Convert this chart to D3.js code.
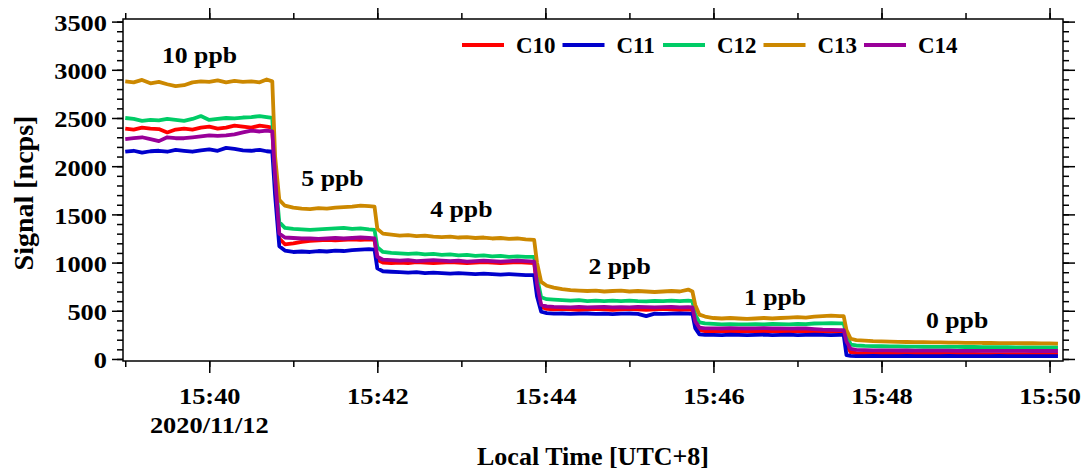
<!DOCTYPE html>
<html>
<head>
<meta charset="utf-8">
<script src="https://cdn.jsdelivr.net/npm/d3@7"></script>
<style>
  body { margin: 0; background: #fff; }
  svg text { font-family: "Liberation Serif", "Times New Roman", serif; font-weight: bold; fill: #000; }
</style>
</head>
<body>
<svg width="1085" height="472"></svg>
<script>
// Sample times, seconds after 15:39:00 on 2020/11/12
var secs = [0, 6, 12, 18, 24, 30, 36, 42, 48, 54, 60, 66, 72, 78, 84, 90, 96, 101, 105,
  107, 110, 114,
  120, 126, 132, 138, 144, 150, 156, 162, 168, 174, 178,
  180, 184,
  190, 196, 202, 208, 214, 220, 226, 232, 238, 244, 250, 256, 262, 268, 274, 280, 286, 292,
  294, 297, 301,
  306, 312, 318, 324, 330, 336, 342, 348, 354, 360, 366, 372, 378, 384, 390, 396, 402, 405,
  407, 410, 414,
  420, 426, 432, 438, 444, 450, 456, 462, 468, 474, 480, 486, 492, 498, 504, 510, 513,
  515, 518, 522,
  528, 534, 540, 546, 552, 558, 564, 570, 576, 582, 588, 594, 600, 606, 612, 618, 624, 630, 636, 642, 648, 654, 660, 666];

var c10 = [2390, 2380, 2400, 2390, 2385, 2350, 2380, 2390, 2380, 2400, 2410, 2390, 2400, 2420, 2410, 2400, 2420, 2410, 2400,
  1800, 1250, 1190,
  1200, 1215, 1225, 1230, 1235, 1230, 1235, 1240, 1235, 1240, 1235,
  1030, 1000,
  995, 1000, 995, 1005, 1000, 995, 1000, 1005, 1000, 995, 1000, 1005, 1000, 995, 1000, 1005, 1000, 995,
  750, 540, 520,
  515, 520, 515, 510, 515, 520, 515, 510, 515, 520, 515, 510, 515, 520, 515, 510, 515, 510,
  360, 300, 290,
  290, 292, 288, 290, 292, 290, 288, 292, 290, 288, 290, 292, 288, 290, 285, 283, 283,
  150, 70, 60,
  58, 57, 56, 55, 55, 55, 54, 54, 53, 53, 53, 52, 52, 52, 51, 51, 51, 50, 50, 50, 50, 50, 50, 50];

var c11 = [2150, 2160, 2140, 2155, 2160, 2150, 2170, 2160, 2150, 2165, 2175, 2160, 2190, 2180, 2165, 2160, 2170, 2155, 2150,
  1700, 1170, 1125,
  1110, 1115, 1110, 1120, 1115, 1125, 1120, 1130, 1135, 1140, 1135,
  940, 910,
  905, 900, 895, 900, 890, 895, 890, 885, 890, 885, 880, 885, 880, 875, 880, 875, 870, 870,
  650, 490, 475,
  470, 472, 468, 470, 472, 468, 470, 465, 470, 472, 468, 445, 470, 468, 470, 472, 470, 468,
  320, 255, 250,
  250, 248, 252, 250, 248, 250, 252, 248, 250, 252, 248, 250, 252, 250, 248, 250, 250,
  40, 32, 30,
  30, 31, 30, 29, 30, 31, 30, 30, 29, 30, 31, 30, 30, 29, 30, 30, 31, 30, 30, 29, 30, 30, 30, 30];

var c12 = [2500, 2490, 2470, 2480, 2475, 2490, 2480, 2470, 2490, 2520, 2480, 2490, 2500, 2495, 2505, 2510, 2520, 2510, 2500,
  1900, 1420, 1360,
  1350, 1345, 1340, 1345, 1350, 1355, 1360, 1350, 1355, 1345, 1340,
  1160, 1110,
  1100, 1095, 1090, 1095, 1085, 1090, 1080, 1085, 1075, 1080, 1070, 1075, 1065, 1070, 1060, 1065, 1060, 1060,
  850, 640, 620,
  615, 610, 605, 610, 600, 605, 600, 605, 600, 605, 600, 598, 603, 600, 605, 600, 605, 600,
  460, 380, 370,
  365, 360, 362, 358, 360, 362, 360, 365, 362, 360, 365, 362, 368, 370, 372, 370, 370,
  250, 150, 140,
  135, 133, 132, 130, 130, 128, 128, 127, 126, 126, 125, 125, 124, 124, 123, 123, 122, 122, 121, 121, 120, 120, 120, 119];

var c13 = [2880, 2870, 2895, 2860, 2875, 2850, 2830, 2840, 2870, 2880, 2875, 2890, 2870, 2885, 2875, 2880, 2870, 2900, 2880,
  2100, 1650, 1590,
  1570, 1560, 1555, 1565, 1560, 1570, 1575, 1580, 1590, 1585, 1580,
  1350, 1300,
  1290, 1280, 1285, 1275, 1280, 1270, 1265, 1270, 1260, 1265, 1255, 1260, 1250, 1255, 1245, 1250, 1240, 1235,
  1000, 800, 760,
  740, 725, 715, 710, 705, 710, 700, 705, 710, 700, 705, 700, 695, 700, 705, 700, 720, 700,
  560, 460, 440,
  425, 420, 425, 420, 415, 420, 425, 420, 425, 430, 435, 430, 440, 445, 450, 445, 445,
  300, 210, 195,
  190, 185, 182, 180, 178, 176, 175, 174, 172, 172, 170, 170, 168, 168, 166, 166, 165, 165, 164, 163, 163, 162, 162, 160];

var c14 = [2280, 2290, 2300, 2280, 2260, 2300, 2290, 2290, 2300, 2310, 2320, 2315, 2320, 2330, 2350, 2370, 2360, 2370, 2360,
  1900, 1300, 1260,
  1255, 1250, 1250, 1245, 1250, 1255, 1250, 1255, 1260, 1255, 1250,
  1060, 1030,
  1025, 1020, 1025, 1015, 1020, 1025, 1020, 1015, 1020, 1010, 1015, 1020, 1015, 1010, 1015, 1020, 1015, 1010,
  780, 560, 545,
  540, 538, 535, 540, 535, 538, 540, 535, 538, 535, 540, 537, 535, 538, 540, 535, 538, 535,
  390, 325, 318,
  318, 316, 320, 318, 316, 318, 320, 316, 318, 315, 318, 316, 310, 305, 302, 300, 300,
  180, 105, 95,
  92, 90, 90, 89, 88, 88, 87, 87, 86, 86, 86, 85, 85, 85, 85, 84, 84, 84, 84, 83, 83, 83, 83, 83];

var seriesNames = ["C10", "C11", "C12", "C13", "C14"];
var seriesColors = ["#ff0000", "#0000cc", "#00cc66", "#cc8800", "#990099"];
var seriesValues = [c10, c11, c12, c13, c14];

var yTicks = [0, 500, 1000, 1500, 2000, 2500, 3000, 3500];
var xTickMinutes = [40, 42, 44, 46, 48, 50];
var dateLabel = "2020/11/12";

// concentration labels: text, seconds, signal value at baseline
var levelNames = ["10 ppb", "5 ppb", "4 ppb", "2 ppb", "1 ppb", "0 ppb"];
var levelSecs = [53, 148, 240, 353, 464, 594];
var levelSignal = [3070, 1795, 1473, 882, 560, 322];

var svg = d3.select("svg");
var plotL = 123, plotR = 1063, plotT = 19, plotB = 361;
var sx = 1.1;

function toDate(s) { return new Date(2020, 10, 12, 15, 39, 0, Math.round(s * 1000)); }

var x = d3.scaleTime()
    .domain([toDate(-1.6), toDate(669.6)])
    .range([plotL, plotR]);
var y = d3.scaleLinear()
    .domain([-21, 3527])
    .range([plotB, plotT]);

// lines
var line = d3.line()
    .x((d, i) => x(toDate(secs[i])))
    .y(d => y(d));

svg.append("g")
    .selectAll("path")
    .data(seriesValues)
    .enter().append("path")
    .attr("d", d => line(d))
    .attr("fill", "none")
    .attr("stroke", (d, i) => seriesColors[i])
    .attr("stroke-width", 3.8)
    .attr("stroke-linejoin", "round");

// frame
svg.append("rect")
    .attr("x", plotL).attr("y", plotT)
    .attr("width", plotR - plotL).attr("height", plotB - plotT)
    .attr("fill", "none").attr("stroke", "#000").attr("stroke-width", 1.5);

var minorY = d3.range(0, 3501, 100);
var majorX = xTickMinutes.map(m => new Date(2020, 10, 12, 15, m, 0));
var minorX = d3.range(39, 51).map(m => new Date(2020, 10, 12, 15, m, 0));

function styleAxis(g) {
    g.select(".domain").remove();
    g.selectAll("line").attr("stroke", "#000").attr("stroke-width", 1.5);
}

// left
svg.append("g").attr("transform", `translate(${plotL},0)`)
    .call(d3.axisLeft(y).tickValues(minorY).tickSize(6).tickFormat(""))
    .call(styleAxis);
var gl = svg.append("g").attr("transform", `translate(${plotL},0)`)
    .call(d3.axisLeft(y).tickValues(yTicks).tickSize(11).tickPadding(5).tickFormat(d3.format("d")))
    .call(styleAxis);
gl.selectAll("text")
    .attr("font-size", 24)
    .attr("x", -16 / sx)
    .attr("dy", "0.37em")
    .attr("transform", `scale(${sx},1)`);

// right
svg.append("g").attr("transform", `translate(${plotR},0)`)
    .call(d3.axisRight(y).tickValues(minorY).tickSize(6).tickFormat(""))
    .call(styleAxis);
svg.append("g").attr("transform", `translate(${plotR},0)`)
    .call(d3.axisRight(y).tickValues(yTicks).tickSize(12).tickFormat(""))
    .call(styleAxis);

// top
svg.append("g").attr("transform", `translate(0,${plotT})`)
    .call(d3.axisTop(x).tickValues(minorX).tickSize(6).tickFormat(""))
    .call(styleAxis);
svg.append("g").attr("transform", `translate(0,${plotT})`)
    .call(d3.axisTop(x).tickValues(majorX).tickSize(11).tickFormat(""))
    .call(styleAxis);

// bottom
svg.append("g").attr("transform", `translate(0,${plotB})`)
    .call(d3.axisBottom(x).tickValues(minorX).tickSize(6).tickFormat(""))
    .call(styleAxis);
var gb = svg.append("g").attr("transform", `translate(0,${plotB})`)
    .call(d3.axisBottom(x).tickValues(majorX).tickSize(12).tickFormat(d3.timeFormat("%H:%M")))
    .call(styleAxis);
gb.selectAll("text")
    .attr("font-size", 24)
    .attr("y", 43)
    .attr("dy", 0)
    .attr("transform", `scale(${sx},1)`);

svg.append("text")
    .attr("transform", `translate(${x(majorX[0])},433) scale(${sx},1)`)
    .attr("text-anchor", "middle")
    .attr("font-size", 24)
    .text(dateLabel);

// axis titles
svg.append("text")
    .attr("x", (plotL + plotR) / 2).attr("y", 465)
    .attr("text-anchor", "middle")
    .attr("font-size", 26)
    .text("Local Time [UTC+8]");
svg.append("text")
    .attr("transform", `translate(33,${(plotT + plotB) / 2 + 3}) rotate(-90)`)
    .attr("text-anchor", "middle")
    .attr("font-size", 28)
    .text("Signal [ncps]");

// concentration annotations
svg.append("g")
    .selectAll("text")
    .data(levelNames)
    .enter().append("text")
    .attr("transform", (d, i) => `translate(${x(toDate(levelSecs[i]))},${y(levelSignal[i])}) scale(1.12,1)`)
    .attr("text-anchor", "middle")
    .attr("font-size", 23)
    .text(d => d);

// legend
var legend = svg.append("g")
    .selectAll("g")
    .data(seriesNames)
    .enter().append("g")
    .attr("transform", (d, i) => `translate(${462 + i * 100.5},45)`);
legend.append("line")
    .attr("x1", 0).attr("x2", 42)
    .attr("stroke", (d, i) => seriesColors[i])
    .attr("stroke-width", 4);
legend.append("text")
    .attr("transform", "translate(54,8)")
    .attr("font-size", 23)
    .text(d => d);
</script>
</body>
</html>
